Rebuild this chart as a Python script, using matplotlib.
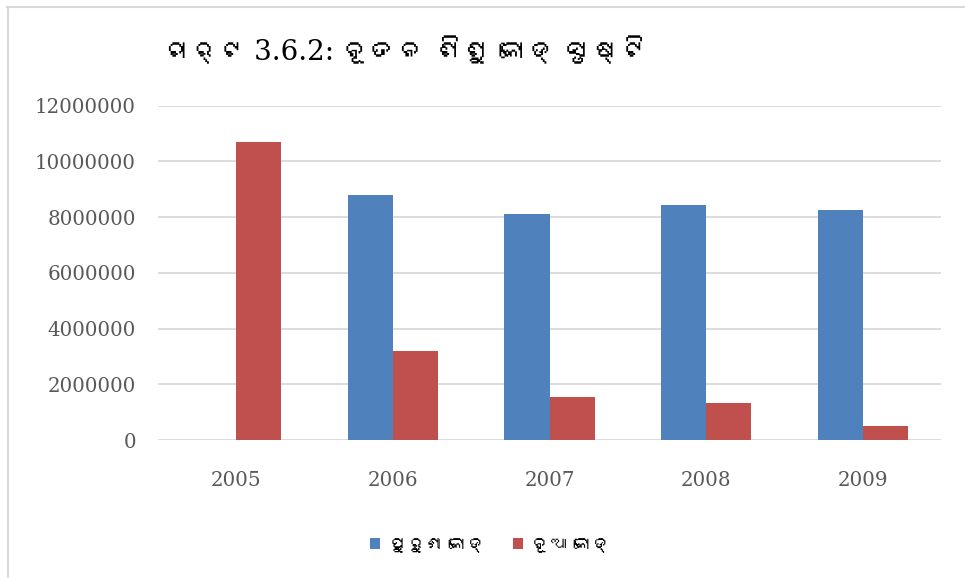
import matplotlib
matplotlib.use("Agg")
import matplotlib.pyplot as plt
from matplotlib import font_manager
from matplotlib.ft2font import FT2Font
from matplotlib.lines import Line2D
from matplotlib.patches import Patch
import numpy as np

# data
years = ['2005', '2006', '2007', '2008', '2009']
old_code = [0, 8810000, 8130000, 8420000, 8270000]      # ପୁରୁଣା କୋଡ୍
new_code = [10710000, 3190000, 1540000, 1330000, 500000]  # ନୂଆ କୋଡ୍
yticks = [0, 2000000, 4000000, 6000000, 8000000, 10000000, 12000000]

title = 'ଚାର୍ଟ 3.6.2: ନୂତନ ଶିଶୁ କୋଡ୍ ସୃଷ୍ଟି'
labels = ['ପୁରୁଣା କୋଡ୍', 'ନୂଆ କୋଡ୍']

colors = ['#4F81BD', '#C0504D']
GRID = '#D9D9D9'
TICK = '#595959'


def find_font(codepoint):
    # look for any installed font that has the glyph
    seen = set()
    for f in font_manager.fontManager.ttflist:
        if f.name in seen:
            continue
        try:
            if codepoint in FT2Font(f.fname).get_charmap():
                return f.name
        except Exception:
            pass
        seen.add(f.name)
    return None


odia = find_font(0x0B15)
# serif first so digits/punctuation come from it, odia glyphs fall through
odia_family = ['DejaVu Serif'] + ([odia] if odia else [])

fig = plt.figure(figsize=(9.65, 5.78), dpi=100)
ax = fig.add_axes([158 / 965, 1 - 440 / 578, (941 - 158) / 965, (440 - 105.7) / 578])

x = np.arange(len(years))
w = 0.2875
ax.bar(x - w / 2, old_code, w, color=colors[0], zorder=3)
ax.bar(x + w / 2, new_code, w, color=colors[1], zorder=3)

ax.set_xlim(-0.5, len(years) - 0.5)
ax.set_ylim(0, 12000000)
ax.set_yticks(yticks, [str(v) for v in yticks])
ax.set_xticks(x, years)
ax.yaxis.grid(True, color=GRID, linewidth=1.3, zorder=0)
ax.set_axisbelow(True)
for s in ax.spines.values():
    s.set_visible(False)
ax.tick_params(axis='y', length=0, pad=15.8, labelsize=14.3, labelcolor=TICK)
ax.tick_params(axis='x', length=0, pad=22, labelsize=14.3, labelcolor=TICK)
for lab in ax.get_xticklabels() + ax.get_yticklabels():
    lab.set_family('DejaVu Serif')

fig.text(405 / 965, 1 - 52 / 578, title, ha='center', va='center',
         fontsize=20, family=odia_family, color='black')

handles = [Patch(facecolor=c, edgecolor='none') for c in colors]
fig.legend(handles, labels, loc='center', bbox_to_anchor=(490 / 965, 1 - 545 / 578),
           ncol=2, frameon=False, handlelength=0.55, handleheight=0.55,
           handletextpad=0.5, columnspacing=1.6,
           prop={'family': odia_family, 'size': 13})

# chart border (only top and left edges show)
fig.add_artist(Line2D([7 / 965, 1], [1 - 6.5 / 578] * 2, transform=fig.transFigure,
                      color=GRID, linewidth=1.5))
fig.add_artist(Line2D([8 / 965] * 2, [1 - 6.5 / 578, 0], transform=fig.transFigure,
                      color=GRID, linewidth=1.5))

fig.savefig('out.png', dpi=100, facecolor='white')
